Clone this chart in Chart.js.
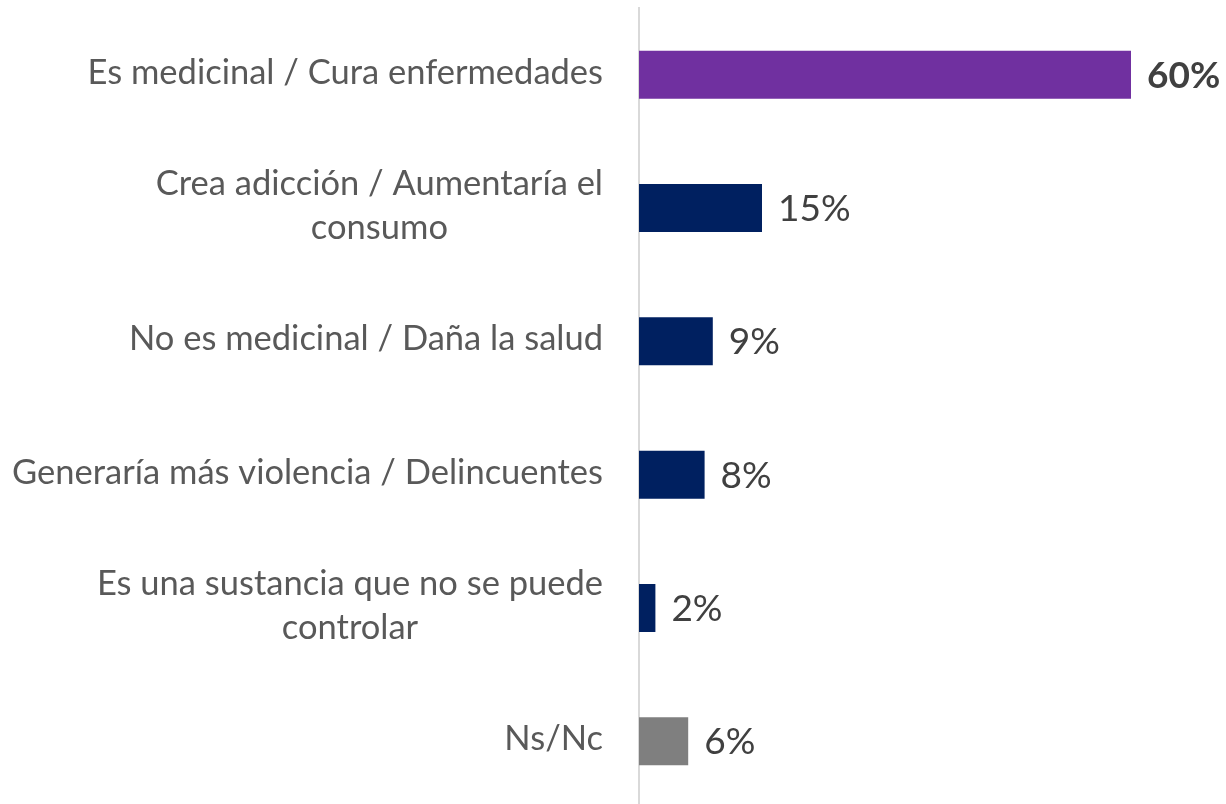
<!DOCTYPE html>
<html>
<head>
<meta charset="utf-8">
<script src="https://cdn.jsdelivr.net/npm/chart.js@4"></script>
<style>
html,body{margin:0;padding:0;overflow:hidden;background:#fff;}
#wrap{width:1226px;height:808px;position:relative;}
</style>
</head>
<body>
<div id="wrap"><canvas id="c" width="1226" height="808"></canvas></div>
<script>
const categories = [
  ["Es medicinal / Cura enfermedades"],
  ["Crea adicción / Aumentaría el", "consumo"],
  ["No es medicinal / Daña la salud"],
  ["Generaría más violencia / Delincuentes"],
  ["Es una sustancia que no se puede", "controlar"],
  ["Ns/Nc"]
];
const values = [60, 15, 9, 8, 2, 6];
const valueLabels = ["60%", "15%", "9%", "8%", "2%", "6%"];
const barColors = ["#7030A0", "#002060", "#002060", "#002060", "#002060", "#7F7F7F"];

const FONT = "Lato, 'Open Sans', sans-serif";

const labelPlugin = {
  id: 'customLabels',
  afterDatasetsDraw(chart) {
    const ctx = chart.ctx;
    const yScale = chart.scales.y;
    const meta = chart.getDatasetMeta(0);
    ctx.save();
    ctx.font = "34.5px " + FONT;
    ctx.fillStyle = "#595959";
    ctx.textBaseline = "middle";
    const rightEdge = chart.chartArea.left - 36;
    const lh = 44;
    categories.forEach((lines, i) => {
      const yc = yScale.getPixelForValue(i) - 2;
      const widths = lines.map(l => ctx.measureText(l).width);
      const maxW = Math.max(...widths);
      const cx = rightEdge - maxW / 2;
      ctx.textAlign = "center";
      lines.forEach((l, j) => {
        const y = yc + (j - (lines.length - 1) / 2) * lh;
        ctx.fillText(l, cx, y);
      });
    });
    ctx.textAlign = "left";
    meta.data.forEach((bar, i) => {
      ctx.font = (i === 0 ? "bold " : "") + "37px " + FONT;
      ctx.fillStyle = "#404040";
      ctx.fillText(valueLabels[i], bar.x + 16, bar.y + 1);
    });
    ctx.restore();
  }
};

new Chart(document.getElementById('c'), {
  type: 'bar',
  data: {
    labels: categories.map(l => l.join(' ')),
    datasets: [{
      data: values,
      backgroundColor: barColors,
      borderWidth: 0,
      categoryPercentage: 1,
      barPercentage: 0.36
    }]
  },
  options: {
    indexAxis: 'y',
    responsive: false,
    animation: false,
    events: [],
    layout: { padding: { top: 8, bottom: 0, left: 0, right: 13 } },
    plugins: { legend: { display: false }, tooltip: { enabled: false } },
    scales: {
      x: { display: false, min: 0, max: 70 },
      y: {
        offset: true,
        grid: { display: false, drawTicks: false },
        border: { display: true, color: "#D9D9D9", width: 2 },
        ticks: { display: false },
        afterFit(scale) { scale.width = 639; }
      }
    }
  },
  plugins: [labelPlugin]
});
</script>
</body>
</html>
